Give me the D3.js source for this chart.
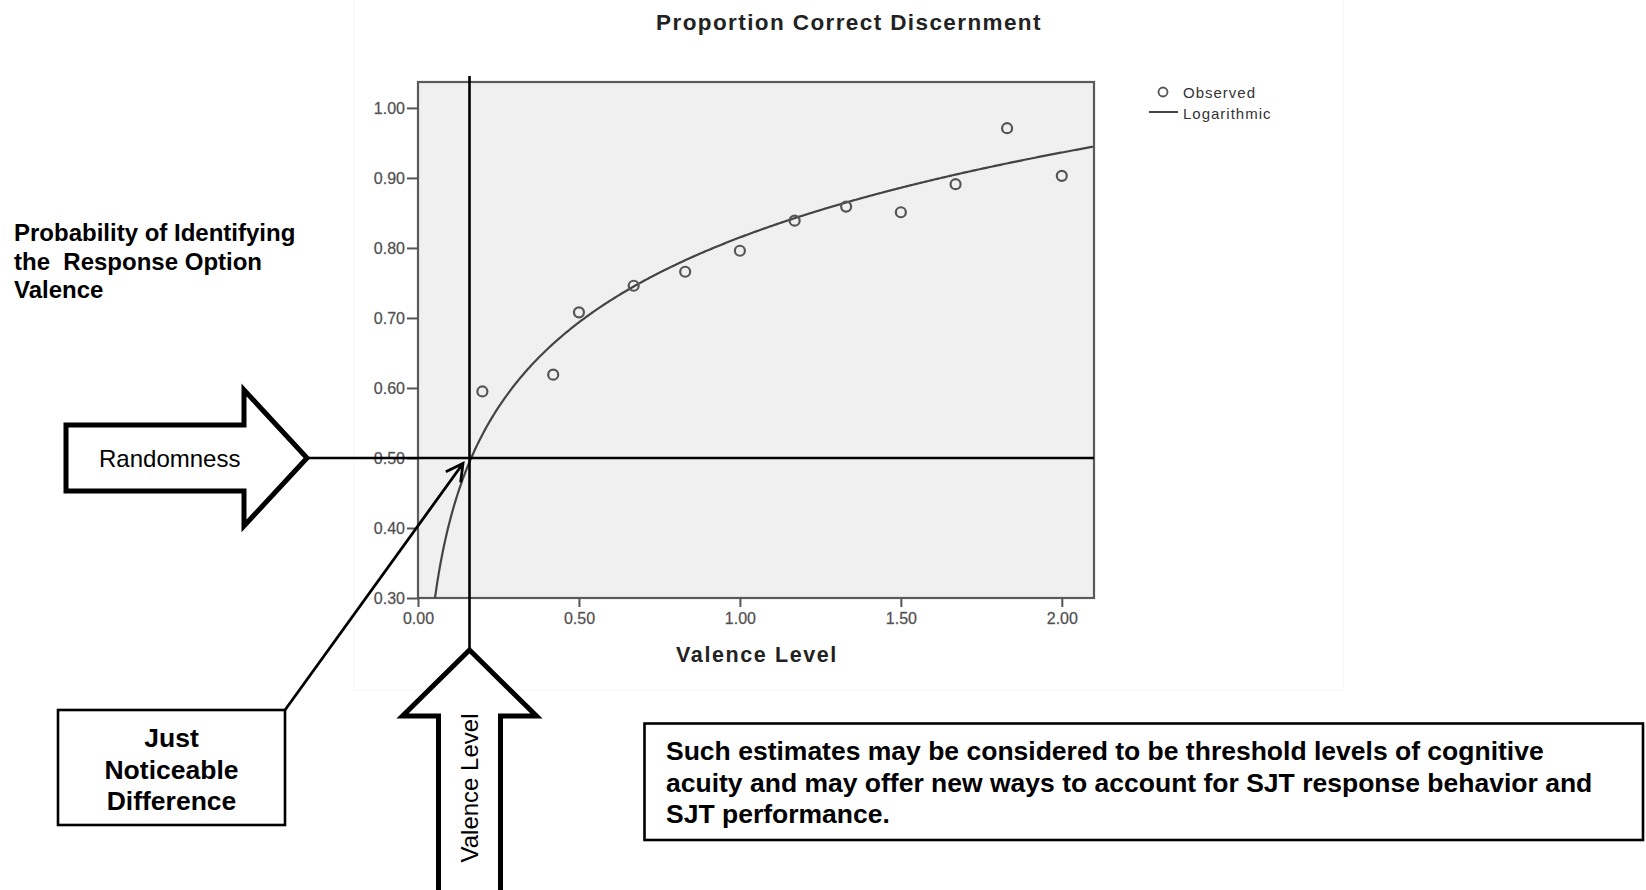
<!DOCTYPE html>
<html>
<head>
<meta charset="utf-8">
<script src="https://cdn.jsdelivr.net/npm/d3@7"></script>
<style>
body { margin: 0; background: #fff; }
text { font-family: Arial, "Liberation Sans", sans-serif; }
</style>
</head>
<body>
<script>
const valence = [0.20, 0.42, 0.50, 0.67, 0.83, 1.00, 1.17, 1.33, 1.50, 1.67, 1.83, 2.00]
const observed = [0.595, 0.619, 0.708, 0.746, 0.766, 0.796, 0.839, 0.859, 0.851, 0.891, 0.971, 0.903]
// logarithmic fit y = a + b * ln(x)
const fitIntercept = 0.815
const fitSlope = 0.175
const xTicks = [0, 0.5, 1, 1.5, 2]
const yTicks = [0.3, 0.4, 0.5, 0.6, 0.7, 0.8, 0.9, 1.0]
const chanceLevel = 0.5
const jndValence = 0.16
const legendItems = ["Observed", "Logarithmic"]
const sideLabel = ["Probability of Identifying", "the  Response Option", "Valence"]
const jndLabel = ["Just", "Noticeable", "Difference"]
const noteLines = [
    "Such estimates may be considered to be threshold levels of cognitive",
    "acuity and may offer new ways to account for SJT response behavior and",
    "SJT performance."
]

const width = 1646
const height = 890

function init(){
    const data = valence.map((v, i) => ({x: v, y: observed[i]}))
    drawVis(data)
}

function drawVis(data){
    const svg = d3.select("body").append("svg")
        .attr("width", width)
        .attr("height", height)

    const x = d3.scaleLinear().domain([0, 2.1]).range([418, 1094])
    const y = d3.scaleLinear().domain([0.3, 1.037]).range([598, 82])

    // faint border of the pasted spss image
    svg.append("rect")
        .attr("x", 354).attr("y", -2)
        .attr("width", 989).attr("height", 692)
        .attr("fill", "none")
        .attr("stroke", "#f5f5f5")

    svg.append("text")
        .attr("x", 849).attr("y", 30)
        .attr("text-anchor", "middle")
        .attr("font-size", 22.5)
        .attr("font-weight", "bold")
        .attr("letter-spacing", 1.4)
        .attr("fill", "#222")
        .text("Proportion Correct Discernment")

    svg.append("clipPath").attr("id", "plotClip")
        .append("rect")
        .attr("x", x.range()[0]).attr("y", y.range()[1])
        .attr("width", x.range()[1] - x.range()[0])
        .attr("height", y.range()[0] - y.range()[1])

    svg.append("rect")
        .attr("x", x.range()[0]).attr("y", y.range()[1])
        .attr("width", x.range()[1] - x.range()[0])
        .attr("height", y.range()[0] - y.range()[1])
        .attr("fill", "#f0f0f0")
        .attr("stroke", "#5a5a5a")
        .attr("stroke-width", 2.2)

    const yAxis = svg.append("g")
        .attr("transform", `translate(${x.range()[0]},0)`)
        .call(d3.axisLeft(y).tickValues(yTicks).tickFormat(d3.format(".2f")).tickSize(11).tickPadding(2))
    const xAxis = svg.append("g")
        .attr("transform", `translate(0,${y.range()[0]})`)
        .call(d3.axisBottom(x).tickValues(xTicks).tickFormat(d3.format(".2f")).tickSize(9).tickPadding(6))

    ;[xAxis, yAxis].forEach(axis => {
        axis.select(".domain").remove()
        axis.selectAll("line").attr("stroke", "#555").attr("stroke-width", 2)
        axis.selectAll("text")
            .attr("font-size", 16)
            .attr("font-family", "Arial, 'Liberation Sans', sans-serif")
            .attr("fill", "#444")
            .attr("stroke", "#777")
            .attr("stroke-width", 0.3)
    })

    svg.append("text")
        .attr("x", 757).attr("y", 662)
        .attr("text-anchor", "middle")
        .attr("font-size", 21.5)
        .attr("font-weight", "bold")
        .attr("letter-spacing", 1.6)
        .attr("fill", "#222")
        .text("Valence Level")

    // fitted curve
    const xStart = Math.exp((y.domain()[0] - fitIntercept) / fitSlope)
    const curve = d3.range(xStart, x.domain()[1] + 0.0001, 0.004)
        .map(v => ({x: v, y: fitIntercept + fitSlope * Math.log(v)}))
    svg.append("path")
        .datum(curve)
        .attr("clip-path", "url(#plotClip)")
        .attr("fill", "none")
        .attr("stroke", "#444")
        .attr("stroke-width", 2.2)
        .attr("d", d3.line().x(d => x(d.x)).y(d => y(d.y)))

    svg.append("g")
        .selectAll("circle")
        .data(data)
        .join("circle")
        .attr("cx", d => x(d.x))
        .attr("cy", d => y(d.y))
        .attr("r", 5)
        .attr("fill", "none")
        .attr("stroke", "#555")
        .attr("stroke-width", 2.2)

    // legend
    const legend = svg.append("g").attr("transform", "translate(1149,92)")
    legend.append("circle").attr("cx", 14).attr("cy", 0).attr("r", 4.5)
        .attr("fill", "none").attr("stroke", "#555").attr("stroke-width", 1.8)
    legend.append("line").attr("x1", 0).attr("x2", 29).attr("y1", 20).attr("y2", 20)
        .attr("stroke", "#444").attr("stroke-width", 2)
    legend.selectAll("text")
        .data(legendItems)
        .join("text")
        .attr("x", 34)
        .attr("y", (d, i) => 6 + i * 21)
        .attr("font-size", 15)
        .attr("letter-spacing", 1)
        .attr("fill", "#333")
        .text(d => d)

    drawAnnotations(svg, x, y)
}

function drawAnnotations(svg, x, y){
    const cx = x(jndValence)
    const cy = y(chanceLevel)

    // crosshair at the threshold
    svg.append("line")
        .attr("x1", cx).attr("x2", cx).attr("y1", 76).attr("y2", 648)
        .attr("stroke", "#000").attr("stroke-width", 2.6)
    svg.append("line")
        .attr("x1", 308).attr("x2", x.range()[1]).attr("y1", cy).attr("y2", cy)
        .attr("stroke", "#000").attr("stroke-width", 2.6)

    // randomness block arrow
    const tipX = 307
    const rArrow = [[66, cy - 33], [244, cy - 33], [244, cy - 68], [tipX, cy], [244, cy + 68], [244, cy + 33], [66, cy + 33]]
    svg.append("path")
        .attr("d", "M" + rArrow.join("L") + "Z")
        .attr("fill", "#fff").attr("stroke", "#000").attr("stroke-width", 5)
        .attr("stroke-linejoin", "miter").attr("stroke-miterlimit", 10)
    svg.append("text")
        .attr("x", 99).attr("y", cy + 9)
        .attr("font-size", 24)
        .text("Randomness")

    // valence block arrow
    const vArrow = [[cx, 650], [cx + 67, 716], [cx + 31, 716], [cx + 31, 900], [cx - 31, 900], [cx - 31, 716], [cx - 67, 716]]
    svg.append("path")
        .attr("d", "M" + vArrow.join("L") + "Z")
        .attr("fill", "#fff").attr("stroke", "#000").attr("stroke-width", 5)
        .attr("stroke-linejoin", "miter").attr("stroke-miterlimit", 10)
    svg.append("text")
        .attr("transform", `translate(${cx + 8},788) rotate(-90)`)
        .attr("text-anchor", "middle")
        .attr("font-size", 24)
        .text("Valence Level")

    // just noticeable difference callout
    const box = {x: 58, y: 710, w: 227, h: 115}
    const tip = [cx - 6.5, cy + 5.5]
    const start = [box.x + box.w, box.y]
    const ang = Math.atan2(start[1] - tip[1], start[0] - tip[0])
    const head = [ang + 0.5, ang - 0.5].map(a => [tip[0] + 19 * Math.cos(a), tip[1] + 19 * Math.sin(a)])
    svg.append("path")
        .attr("d", `M${start}L${tip}M${head[0]}L${tip}L${head[1]}`)
        .attr("fill", "none").attr("stroke", "#000").attr("stroke-width", 2.8)
        .attr("stroke-linejoin", "miter")
    svg.append("rect")
        .attr("x", box.x).attr("y", box.y).attr("width", box.w).attr("height", box.h)
        .attr("fill", "#fff").attr("stroke", "#000").attr("stroke-width", 2.6)
    svg.append("g").selectAll("text")
        .data(jndLabel)
        .join("text")
        .attr("x", box.x + box.w / 2)
        .attr("y", (d, i) => 747 + i * 31.6)
        .attr("text-anchor", "middle")
        .attr("font-size", 26.5)
        .attr("font-weight", "bold")
        .text(d => d)

    // y label on the left
    svg.append("g").selectAll("text")
        .data(sideLabel)
        .join("text")
        .attr("x", 14)
        .attr("y", (d, i) => 241 + i * 28.7)
        .attr("font-size", 24)
        .attr("font-weight", "bold")
        .style("white-space", "pre")
        .text(d => d)

    // note box
    svg.append("rect")
        .attr("x", 644.5).attr("y", 723.5).attr("width", 998.5).attr("height", 116.5)
        .attr("fill", "#fff").attr("stroke", "#000").attr("stroke-width", 2.6)
    svg.append("g").selectAll("text")
        .data(noteLines)
        .join("text")
        .attr("x", 666)
        .attr("y", (d, i) => 760 + i * 31.7)
        .attr("font-size", 26.5)
        .attr("font-weight", "bold")
        .text(d => d)
}

init()
</script>
</body>
</html>
